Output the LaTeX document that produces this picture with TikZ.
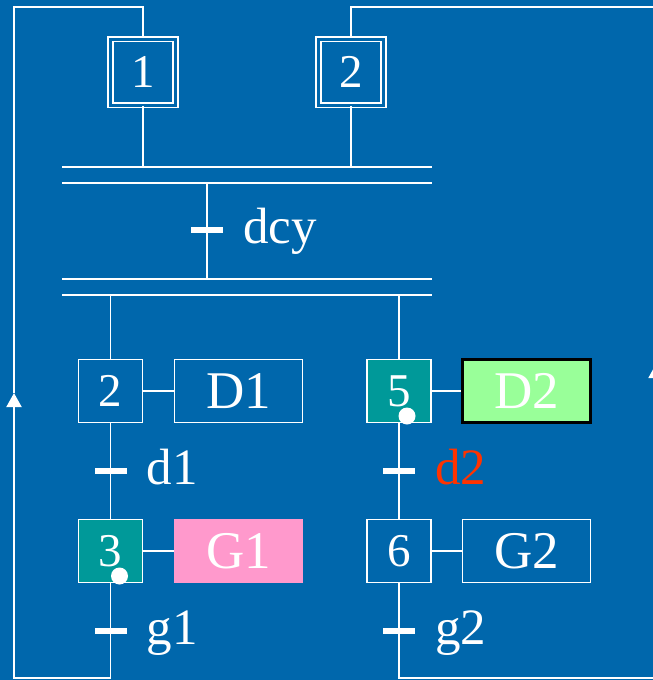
\documentclass[tikz,border=0pt]{standalone}
\usepackage{fontspec}
\setmainfont{Liberation Serif}
\usetikzlibrary{arrows.meta}
\definecolor{bgblue}{RGB}{0,103,172}
\definecolor{stepteal}{RGB}{0,153,153}
\definecolor{actgreen}{RGB}{153,255,153}
\definecolor{actpink}{RGB}{255,153,204}
\definecolor{condred}{RGB}{255,51,0}
\begin{document}
\begin{tikzpicture}[x=1pt,y=-1pt,
  stepbox/.style={draw=white, line width=1.9pt, minimum width=64pt, minimum height=63pt, inner sep=0pt, text=white, font=\fontsize{47}{50}\selectfont},
  activestep/.style={stepbox, fill=stepteal},
  initstep/.style={stepbox, double=bgblue, double distance=3pt, minimum width=65pt, minimum height=66pt},
  actionbox/.style={draw=white, line width=1.9pt, minimum width=128pt, minimum height=63pt, inner sep=0pt, text=white, font=\fontsize{53}{56}\selectfont},
  transbar/.style={fill=white, minimum width=32pt, minimum height=6pt, inner sep=0pt},
  cond/.style={anchor=base west, text=white, font=\fontsize{51}{54}\selectfont, inner sep=0pt},
  tokendot/.style={circle, fill=white, minimum size=17pt, inner sep=0pt},
  link/.style={draw=white, line width=1.9pt},
  looptip/.style={-{Triangle[width=15pt,length=14pt]}}
]
\useasboundingbox (0,0) rectangle (653,680);
\fill[bgblue] (0,0) rectangle (653,680);
\clip (0,0) rectangle (653,680);

% initial steps
\node[initstep] (init1) at (143,72) {1};
\node[initstep] (init2) at (351,72) {2};

% synchronisation bars
\coordinate (s1a) at (62,167); \coordinate (s1b) at (432,167);
\coordinate (s2a) at (62,183); \coordinate (s2b) at (432,183);
\coordinate (s3a) at (62,279); \coordinate (s3b) at (432,279);
\coordinate (s4a) at (62,295); \coordinate (s4b) at (432,295);

% transition dcy
\node[transbar] (tdcy) at (207,230) {};
\node[cond] (ldcy) at ([xshift=20pt,yshift=-13pt]tdcy.east) {dcy};

% steps and actions
\node[stepbox] (step2) at (110.5,391) {2};
\node[actionbox] (D1) at (238.5,391) {D1};
\node[activestep] (step5) at (399,391) {5};
\node[actionbox, fill=actgreen, draw=black, line width=2.5pt] (D2) at (526.5,391) {D2};
\node[activestep] (step3) at (110.5,551) {3};
\node[actionbox, fill=actpink, draw=actpink] (G1) at (238.5,551) {G1};
\node[stepbox] (step6) at (399,551) {6};
\node[actionbox] (G2) at (526.5,551) {G2};

% transitions
\node[transbar] (td1) at (110.5,471) {};
\node[cond] (ld1) at ([xshift=20pt,yshift=-13pt]td1.east) {d1};
\node[transbar] (td2) at (399,471) {};
\node[cond, text=condred] (ld2) at ([xshift=20pt,yshift=-13pt]td2.east) {d2};
\node[transbar] (tg1) at (110.5,631) {};
\node[cond] (lg1) at ([xshift=20pt,yshift=-13pt]tg1.east) {g1};
\node[transbar] (tg2) at (399,631) {};
\node[cond] (lg2) at ([xshift=20pt,yshift=-13pt]tg2.east) {g2};

% loop corners
\coordinate (tl) at (14,7);
\coordinate (bl) at (14,678);
\coordinate (arrL) at (14,393);
\coordinate (tr) at (656,7);
\coordinate (br) at (656,678);
\coordinate (arrR) at (656,364);

% connectors
\draw[link] (init1.south) -- (init1.south |- s1a);
\draw[link] (init2.south) -- (init2.south |- s1a);
\draw[link] (s1a) -- (s1b);
\draw[link] (s2a) -- (s2b);
\draw[link] (s3a) -- (s3b);
\draw[link] (s4a) -- (s4b);
\draw[link] (tdcy |- s2a) -- (tdcy |- s3a);
\draw[link] (step2.north |- s4a) -- (step2.north);
\draw[link] (step5.north |- s4a) -- (step5.north);
\draw[link] (step2.south) -- (step3.north);
\draw[link] (step5.south) -- (step6.north);
\draw[link] (step2.east) -- (D1.west);
\draw[link] (step5.east) -- (D2.west);
\draw[link] (step3.east) -- (G1.west);
\draw[link] (step6.east) -- (G2.west);

% left loop: step 3 back to initial step 1
\draw[link, looptip] (step3.south) -- (step3.south |- bl) -- (bl) -- (arrL);
\draw[link] (arrL) -- (tl) -- (tl -| init1.north) -- (init1.north);
% right loop: step 6 back to initial step 2
\draw[link, looptip] (step6.south) -- (step6.south |- br) -- (br) -- (arrR);
\draw[link] (arrR) -- (tr) -- (tr -| init2.north) -- (init2.north);

% tokens
\node[tokendot] (tok3) at ([xshift=9pt,yshift=-25pt]step3.center) {};
\node[tokendot] (tok5) at ([xshift=8pt,yshift=-25pt]step5.center) {};
\end{tikzpicture}
\end{document}
